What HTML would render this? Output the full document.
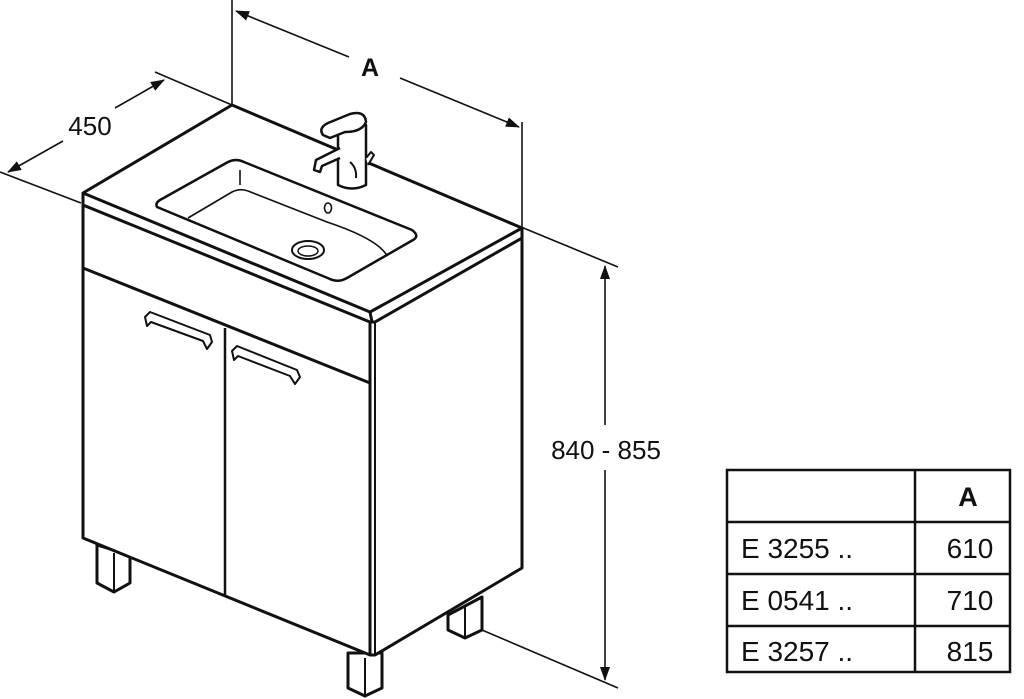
<!DOCTYPE html>
<html><head><meta charset="utf-8"><style>
html,body{margin:0;padding:0;background:#fff;}
svg{display:block;}
text{font-family:"Liberation Sans",Arial,sans-serif;fill:#111;}
</style></head><body>
<svg width="1024" height="699" viewBox="0 0 1024 699" xmlns="http://www.w3.org/2000/svg">
<defs>
<marker id="ar" markerWidth="14" markerHeight="10" refX="13" refY="5" orient="auto" markerUnits="userSpaceOnUse">
<path d="M0,0 L14,5 L0,10 Z" fill="#111"/></marker>
</defs>
<g stroke="#111" fill="none" stroke-width="1.6">
<line x1="232" y1="0" x2="232" y2="105"/>
<line x1="522" y1="122" x2="522" y2="228"/>
<line x1="0" y1="172" x2="81" y2="203"/>
<line x1="155" y1="72" x2="232" y2="105"/>
<line x1="521" y1="227" x2="618" y2="267"/>
<line x1="482" y1="630" x2="618" y2="688"/>
<line x1="349" y1="57" x2="236" y2="11" marker-end="url(#ar)"/>
<line x1="400" y1="78" x2="519" y2="127" marker-end="url(#ar)"/>
<line x1="63" y1="141" x2="8" y2="172" marker-end="url(#ar)"/>
<line x1="115" y1="108" x2="164" y2="80" marker-end="url(#ar)"/>
<line x1="605" y1="425" x2="605" y2="266" marker-end="url(#ar)"/>
<line x1="605" y1="470" x2="605" y2="680" marker-end="url(#ar)"/>
</g>
<text x="370" y="76" font-size="25" font-weight="bold" text-anchor="middle">A</text>
<text x="90" y="135" font-size="26" text-anchor="middle">450</text>
<text x="606" y="459" font-size="26" text-anchor="middle">840 - 855</text>

<g stroke="#111" fill="#fff" stroke-width="3" stroke-linejoin="round">
<path d="M97,545 L97,583 L114,592 L130,583 L130,555 Z"/>
<line x1="114" y1="553" x2="114" y2="592" stroke-width="2"/>
<path d="M448,615 L448,630 L465,638 L482,630 L482,597 L465,606 Z"/>
<line x1="465" y1="606" x2="465" y2="638" stroke-width="2"/>
<path d="M348,653 L348,688 L365,696 L382,688 L382,653 Z"/>
<line x1="365" y1="658" x2="365" y2="696" stroke-width="2"/>
<path d="M83,205 L83,538 L370,655 L375,655 L522,568 L522,238 L375,320 L370,320 Z"/>
<line x1="370" y1="320" x2="370" y2="655"/>
<line x1="375" y1="320" x2="375" y2="655" stroke-width="2"/>
<line x1="83" y1="268" x2="370" y2="383"/>
<line x1="225" y1="328" x2="225" y2="595" stroke-width="2.5"/>
<path d="M83,193 L232,105 L522,228 L522,238 L375,322 L370,322 L83,205 Z"/>
<path d="M83,193 L370,312 L522,228" fill="none"/>
<line x1="370" y1="312" x2="372" y2="322"/>
<path d="M157,207 Q155,203 160,200 L228,162 Q236,158 244,162 L412,230 Q420,236 413,240 L347,278 Q338,283 330,279 Z" stroke-width="2.5"/>
<path d="M188,218 L232,192 Q240,188 248,191" fill="none" stroke-width="1.6"/>
<line x1="240" y1="170" x2="240" y2="185" stroke-width="1.6"/>
<path d="M248,191 L327,222 Q375,238 386,254 L387,255" fill="none" stroke-width="1.6"/>
<ellipse cx="308" cy="250" rx="16" ry="9" stroke-width="2"/>
<ellipse cx="308" cy="251" rx="10" ry="5" stroke-width="1.5"/>
<ellipse cx="328" cy="208" rx="3.5" ry="5" stroke-width="1.6"/>
<path d="M145,317 L150,312 L210,335 L212,342 L207,349 L203,341 L151,322 L147,326 Z" stroke-width="2"/>
<path d="M232,351 L237,346 L297,370 L300,377 L295,384 L290,376 L238,356 L234,360 Z" stroke-width="2"/>
<path d="M338,125 L338,185 Q352,192 366,185 L366,125 Z" stroke-width="2.5"/>
<path d="M323,135 Q318,128 328,123 L350,114 Q365,110 366,122 Q362,132 345,132 L330,138 Z" stroke-width="2.5"/>
<path d="M340,148 L316,160 L314,170 L320,172 L322,166 L340,158" stroke-width="2.5"/>
<path d="M350,162 Q357,168 356,178" fill="none" stroke-width="2"/>
<path d="M366,158 L371,152 L374,155 L368,165" stroke-width="2"/>
</g>

<g stroke="#111" stroke-width="2.5" fill="none">
<rect x="727" y="470" width="283" height="202"/>
<line x1="915" y1="470" x2="915" y2="672"/>
<line x1="727" y1="522" x2="1010" y2="522"/>
<line x1="727" y1="574" x2="1010" y2="574"/>
<line x1="727" y1="626" x2="1010" y2="626"/>
</g>
<g font-size="28">
<text x="968" y="506" font-weight="bold" text-anchor="middle" font-size="27">A</text>
<text x="741" y="558">E 3255 ..</text>
<text x="741" y="610">E 0541 ..</text>
<text x="741" y="661">E 3257 ..</text>
<text x="970" y="558" text-anchor="middle">610</text>
<text x="970" y="610" text-anchor="middle">710</text>
<text x="970" y="661" text-anchor="middle">815</text>
</g>
</svg>
</body></html>
